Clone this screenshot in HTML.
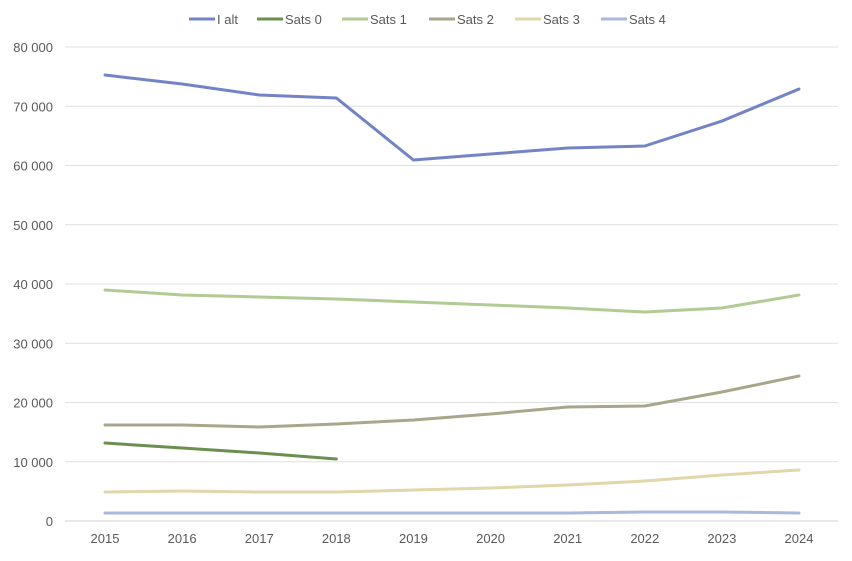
<!DOCTYPE html>
<html><head><meta charset="utf-8"><style>
body{margin:0;background:#fff;font-family:"Liberation Sans",sans-serif}
svg text{font-family:"Liberation Sans",sans-serif;fill:#595959;font-size:13px}
</style></head><body>
<svg id="chart" width="852" height="556"></svg>
<script>
const years=[2015,2016,2017,2018,2019,2020,2021,2022,2023,2024];
const yTicks=[0,10000,20000,30000,40000,50000,60000,70000,80000];
const seriesNames=["I alt","Sats 0","Sats 1","Sats 2","Sats 3","Sats 4"];
const iAlt=[75270,73750,71900,71400,60930,61940,62950,63290,67500,72900];
const sats0=[13160,12320,11480,10460,null,null,null,null,null,null];
const sats1=[38990,38140,37800,37470,36960,36460,35950,35270,35950,38140];
const sats2=[16200,16200,15860,16370,17050,18060,19240,19410,21770,24470];
const sats3=[4890,5060,4890,4890,5230,5570,6080,6750,7760,8610];
const sats4=[1350,1350,1350,1350,1350,1350,1350,1520,1520,1350];
const colors=["#7384c6","#6a8f50","#b0cb93","#aaa68c","#e2d6ab","#a9b8de"];
const allSeries=[iAlt,sats0,sats1,sats2,sats3,sats4];
const NS="http://www.w3.org/2000/svg";
const svg=document.getElementById('chart');
const x0=105,x1=799,yBase=521,yTop=47,yMax=80000;
const xs=i=>x0+(x1-x0)*i/(years.length-1);
const ys=v=>yBase-(yBase-yTop)*v/yMax;
function mk(t,a){const e=document.createElementNS(NS,t);for(const k in a)e.setAttribute(k,a[k]);svg.appendChild(e);return e;}
const fmt=v=>v===0?"0":String(v).replace(/\B(?=(\d{3})+(?!\d))/g," ");
yTicks.forEach(v=>{
 const g=mk('line',{x1:65,x2:838,y1:ys(v),y2:ys(v),stroke:v===0?'#d0d0d0':'#e0e0e0','stroke-width':1});
 
 
 const t=mk('text',{x:53,y:ys(v)+5,'text-anchor':'end'});t.textContent=fmt(v);
 
 
});
years.forEach((yr,i)=>{
 const t=mk('text',{x:xs(i),y:543,'text-anchor':'middle'});t.textContent=yr;
 
 
});
allSeries.slice().reverse().forEach((s,ri)=>{
 const k=allSeries.length-1-ri;
 let d="",start=true;
 s.forEach((v,i)=>{if(v==null){start=true;return;}d+=(start?"M":"L")+xs(i)+","+ys(v);start=false;});
 const p=mk('path',{d:d,fill:'none',stroke:colors[k],'stroke-width':3,'stroke-linejoin':'round','stroke-linecap':'round'});
 
 
});
const legX=[189,257,342,429,515,601];
seriesNames.forEach((n,k)=>{
 const l=mk('line',{x1:legX[k],x2:legX[k]+26,y1:19,y2:19,stroke:colors[k],'stroke-width':3});
 
 
 const t=mk('text',{x:legX[k]+28,y:24});t.textContent=n;
 
 
});
</script>
</body></html>
